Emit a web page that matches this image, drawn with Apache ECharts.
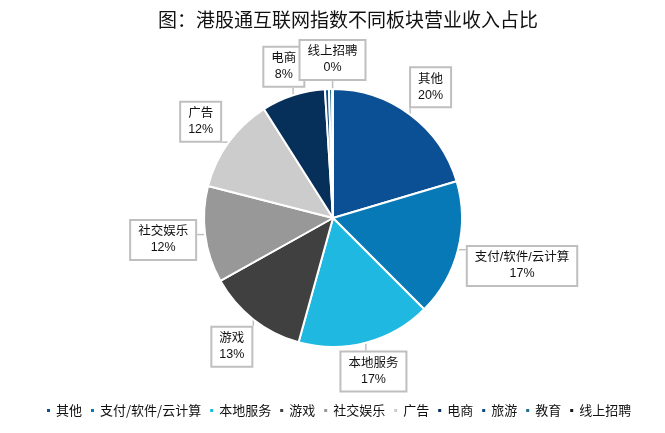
<!DOCTYPE html>
<html>
<head>
<meta charset="utf-8">
<title>港股通互联网指数不同板块营业收入占比</title>
<script src="https://cdn.jsdelivr.net/npm/echarts@6/dist/echarts.min.js"></script>
<style>
    html, body { margin: 0; padding: 0; background: #fff; }
    #chart { width: 665px; height: 433px; }
</style>
</head>
<body>
<div id="chart"></div>
<script>
// 板块名称
const categories = ['其他', '支付/软件/云计算', '本地服务', '游戏', '社交娱乐', '广告', '电商', '旅游', '教育', '线上招聘'];
// 营业收入占比(%)
const shares = [20.4, 17.1, 16.8, 12.6, 12.1, 12.0, 8.0, 0.5, 0.4, 0.1];
// 不显示标签的板块
const hiddenLabels = ['旅游', '教育'];
const colors = ['#0B4F95', '#0679B6', '#1FB8E0', '#404040', '#989898', '#CCCCCC', '#06305A', '#0A4A85', '#1E6E8E', '#1A1A1A'];

// 饼图几何
const pieCenter = [333, 218];
const pieRadius = 129;
const labelGap = 8;   // 标签框与饼图边缘的距离

// 组装饼图数据
function getPieData() {
    return categories.map(function(name, i) {
        let item = { name: name, value: shares[i] };
        if (hiddenLabels.indexOf(name) > -1) {
            item.label = { show: false };
            item.labelLine = { show: false };
        }
        return item;
    });
}

// 扇区中线角度(从12点方向顺时针, 弧度)
function getMidAngle(index) {
    const total = shares.reduce(function(a, b) { return a + b; }, 0);
    let before = 0;
    for (let i = 0; i < index; i++) {
        before += shares[i];
    }
    return (before + shares[index] / 2) / total * Math.PI * 2;
}

function clamp(v, lo, hi) {
    return Math.max(lo, Math.min(hi, v));
}

// 类似Excel的标签: 放在扇区中线方向, 刚好离开饼图边缘
function layoutLabel(params) {
    const a = getMidAngle(params.dataIndex);
    const s = Math.sin(a);
    const c = Math.cos(a);
    const w = params.labelRect.width / 2;
    const h = params.labelRect.height / 2;
    const ext = Math.min(
        Math.abs(s) > 1e-6 ? w / Math.abs(s) : Infinity,
        Math.abs(c) > 1e-6 ? h / Math.abs(c) : Infinity
    );
    const r = pieRadius + labelGap + ext;
    const x = pieCenter[0] + r * s;
    const y = pieCenter[1] - r * c;
    const ex = pieCenter[0] + pieRadius * s;
    const ey = pieCenter[1] - pieRadius * c;
    const px = clamp(ex, x - w, x + w);
    const py = clamp(ey, y - h, y + h);
    return {
        x: x,
        y: y,
        align: 'center',
        verticalAlign: 'middle',
        labelLinePoints: [[ex, ey], [px, py], [px, py]]
    };
}

let myChart = echarts.init(document.getElementById('chart'));
myChart.setOption({
    color: colors,
    animation: false,
    title: {
        text: '图：港股通互联网指数不同板块营业收入占比',
        left: 153,
        top: 5,
        textStyle: {
            fontFamily: 'Noto Sans CJK SC',
            fontSize: 19,
            fontWeight: 'normal',
            color: '#111'
        }
    },
    legend: {
        bottom: 11,
        left: 40,
        icon: 'rect',
        itemWidth: 5,
        itemHeight: 5,
        itemGap: 7,
        textStyle: {
            fontFamily: 'Noto Sans CJK SC',
            fontSize: 13,
            color: '#111'
        },
        data: categories
    },
    series: [
        {
            type: 'pie',
            center: pieCenter,
            radius: pieRadius,
            startAngle: 90,
            clockwise: true,
            itemStyle: {
                borderColor: '#fff',
                borderWidth: 2
            },
            label: {
                show: true,
                position: 'outside',
                formatter: function(p) {
                    return p.name + '\n' + Math.round(p.value) + '%';
                },
                fontFamily: 'Liberation Sans, Noto Sans CJK SC',
                fontSize: 12.5,
                lineHeight: 16,
                color: '#111',
                align: 'center',
                backgroundColor: '#fff',
                borderColor: '#bfbfbf',
                borderWidth: 2,
                padding: [3, 7]
            },
            labelLine: {
                show: true,
                length: 10,
                length2: 4,
                lineStyle: { color: '#bfbfbf', width: 1.5 }
            },
            labelLayout: layoutLabel,
            data: getPieData()
        }
    ]
});
</script>
</body>
</html>
